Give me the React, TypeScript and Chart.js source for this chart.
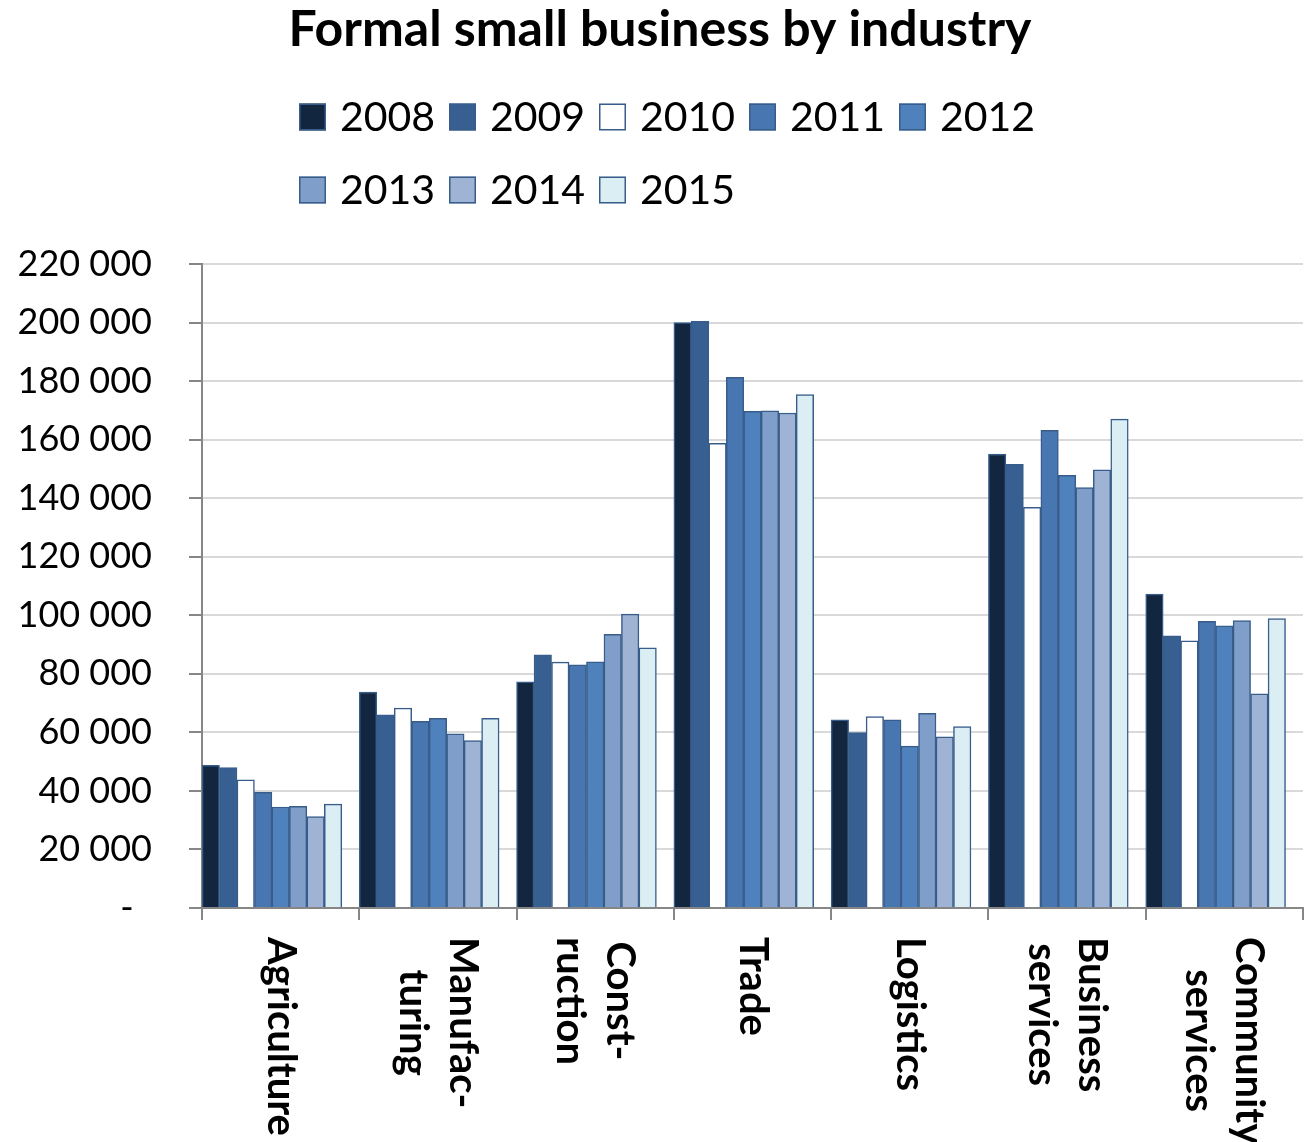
import React, { useEffect, useRef } from "react";
import { Chart, registerables } from "chart.js";

Chart.register(...registerables);

const categories: string[][] = [
  ["Agriculture"],
  ["Manufac-", "turing"],
  ["Const-", "ruction"],
  ["Trade"],
  ["Logistics"],
  ["Business", "services"],
  ["Community", "services"],
];

const years = ["2008", "2009", "2010", "2011", "2012", "2013", "2014", "2015"];

const s2008 = [48700, 73800, 77300, 200000, 64300, 155100, 107200];
const s2009 = [48000, 66000, 86500, 200400, 59900, 151600, 93000];
const s2010 = [43800, 68300, 84000, 158700, 65400, 136900, 91300];
const s2011 = [39500, 63800, 83100, 181300, 64300, 163200, 97900];
const s2012 = [34500, 64800, 84100, 169700, 55300, 147800, 96400];
const s2013 = [34700, 59500, 93500, 169800, 66500, 143600, 98200];
const s2014 = [31200, 57200, 100400, 169100, 58500, 149700, 73200];
const s2015 = [35500, 64800, 88900, 175400, 62000, 167000, 98900];

const seriesValues = [s2008, s2009, s2010, s2011, s2012, s2013, s2014, s2015];
const seriesColors = [
  "#13263f",
  "#375f92",
  "#ffffff",
  "#4876b0",
  "#4f81bd",
  "#7f9ec9",
  "#9fb3d5",
  "#dbeef4",
];
const yTicks = [0, 20000, 40000, 60000, 80000, 100000, 120000, 140000, 160000, 180000, 200000, 220000];

const BORDER = "#385d8a";
const AXIS = "#868686";
const GRID = "#d9d9d9";

function fmt(v: number): string {
  if (v === 0) return "-  ";
  return String(v).replace(/\B(?=(\d{3})+(?!\d))/g, " ");
}

const legendPlugin = {
  id: "customLegend",
  afterDraw(chart: any) {
    const ctx = chart.ctx;
    const perRow = 5;
    const startX = 299;
    const pitch = 150;
    const rowY = [117, 190];
    const box = 27;
    ctx.save();
    ctx.font = "41px Lato";
    ctx.textBaseline = "middle";
    ctx.textAlign = "left";
    chart.data.datasets.forEach((ds: any, i: number) => {
      if (!ds.label) return;
      const row = Math.floor(i / perRow);
      const col = i % perRow;
      const x = startX + col * pitch;
      const y = rowY[row];
      ctx.fillStyle = ds.backgroundColor;
      ctx.fillRect(x, y - box / 2, box, box);
      ctx.strokeStyle = BORDER;
      ctx.lineWidth = 1.5;
      ctx.strokeRect(x + 0.75, y - box / 2 + 0.75, box - 1.5, box - 1.5);
      ctx.fillStyle = "#000";
      ctx.fillText(ds.label, x + box + 14, y + 1);
    });
    ctx.restore();
  },
};

const catLabelPlugin = {
  id: "catLabels",
  afterDraw(chart: any) {
    const ctx = chart.ctx;
    const xs = chart.scales.x;
    const top = chart.chartArea.bottom + 29;
    const lineGap = 50;
    ctx.save();
    ctx.font = "bold 40px Lato";
    ctx.fillStyle = "#000";
    ctx.textAlign = "center";
    ctx.textBaseline = "middle";
    (chart.data.labels as string[][]).forEach((lines, i) => {
      const cx = xs.getPixelForValue(i);
      const maxW = Math.max(...lines.map((l) => ctx.measureText(l).width));
      const n = lines.length;
      lines.forEach((line, j) => {
        ctx.save();
        ctx.translate(cx + ((n - 1) / 2 - j) * lineGap, top + maxW / 2);
        ctx.rotate(Math.PI / 2);
        ctx.fillText(line, 0, 0);
        ctx.restore();
      });
    });
    ctx.restore();
  },
};

export default function App() {
  const ref = useRef<HTMLCanvasElement | null>(null);

  useEffect(() => {
    if (!ref.current) return;
    const datasets: any[] = years.map((y, i) => ({
      label: y,
      data: seriesValues[i],
      backgroundColor: seriesColors[i],
      borderColor: BORDER,
      borderWidth: 1.5,
    }));
    // empty spacer slot (the source chart leaves one empty bar slot per category)
    datasets.push({ label: "", data: categories.map(() => null), backgroundColor: "transparent", borderWidth: 0 });

    const chart = new Chart(ref.current, {
      type: "bar",
      data: { labels: categories as any, datasets },
      options: {
        animation: false,
        responsive: true,
        maintainAspectRatio: false,
        datasets: { bar: { barPercentage: 1, categoryPercentage: 1 } },
        layout: { padding: { left: 17, right: 4, top: 0, bottom: 222 } },
        plugins: {
          legend: { display: false },
          tooltip: { enabled: false },
          title: {
            display: true,
            text: "Formal small business by industry",
            color: "#000",
            font: { family: "Lato", size: 50, weight: "bold" },
            padding: { top: 0, bottom: 204 },
          },
        },
        scales: {
          x: {
            type: "category",
            offset: true,
            grid: {
              display: true,
              drawOnChartArea: false,
              drawTicks: true,
              tickLength: 12,
              color: AXIS,
              lineWidth: 2,
              offset: true,
            },
            border: { display: true, color: AXIS, width: 2 },
            ticks: { display: false },
          },
          y: {
            min: 0,
            max: 220000,
            afterBuildTicks: (scale: any) => {
              scale.ticks = yTicks.map((v) => ({ value: v }));
            },
            afterFit: (scale: any) => {
              scale.width = 185;
            },
            grid: {
              color: (c: any) => (c.tick && c.tick.value === 0 ? "rgba(0,0,0,0)" : GRID),
              lineWidth: 2,
              tickColor: AXIS,
              tickLength: 13,
              drawTicks: true,
            },
            border: { display: true, color: AXIS, width: 2 },
            ticks: {
              padding: 37,
              color: "#000",
              font: { family: "Lato", size: 36 },
              callback: (v: any) => fmt(Number(v)),
            },
          },
        },
      },
      plugins: [legendPlugin, catLabelPlugin],
    });
    return () => chart.destroy();
  }, []);

  return (
    <div style={{ position: "fixed", left: 0, top: 0, width: 1307, height: 1142, background: "#fff" }}>
      <canvas ref={ref} />
    </div>
  );
}
